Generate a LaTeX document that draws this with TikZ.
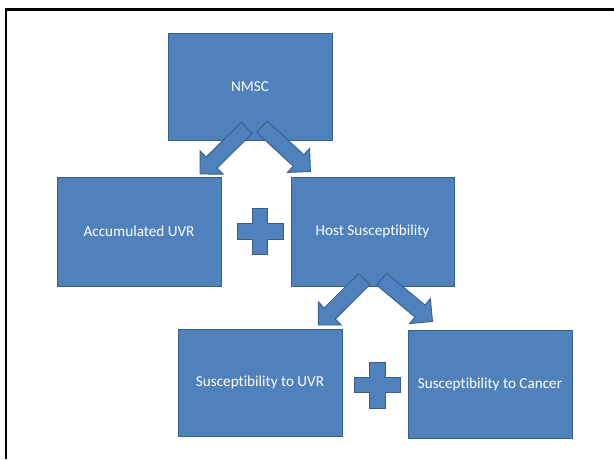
\documentclass[tikz,border=0pt]{standalone}
\usepackage{fontspec}
\setmainfont{Carlito}[Ligatures=NoCommon]
\usetikzlibrary{calc}
\definecolor{boxfill}{HTML}{4F81BD}
\definecolor{boxline}{HTML}{3A5F8B}
\tikzset{
  blockbox/.style={draw=boxline, fill=boxfill, line width=0.9pt, text=white,
    inner sep=0pt, font=\fontsize{15.2}{18}\selectfont},
  blockshape/.style={draw=boxline, fill=boxfill, line width=0.9pt, line join=miter},
}
\newcommand\blkarrow[2]{%
  \coordinate (ba) at (#1);
  \coordinate (bt) at (#2);
  \coordinate (hb) at ($(bt)!16.3pt!(ba)$);
  \filldraw[blockshape]
    ($(ba)!7.8pt!90:(bt)$) -- ($(hb)!7.8pt!90:(bt)$) -- ($(hb)!16.3pt!90:(bt)$)
    -- (bt) -- ($(hb)!16.3pt!-90:(bt)$) -- ($(hb)!7.8pt!-90:(bt)$)
    -- ($(ba)!7.8pt!-90:(bt)$) -- cycle;
}
\newcommand\plussign[1]{%
  \filldraw[blockshape] ($(#1)+(-7.8,-23)$) -- ($(#1)+(7.8,-23)$) -- ($(#1)+(7.8,-7.8)$)
    -- ($(#1)+(23,-7.8)$) -- ($(#1)+(23,7.8)$) -- ($(#1)+(7.8,7.8)$)
    -- ($(#1)+(7.8,23)$) -- ($(#1)+(-7.8,23)$) -- ($(#1)+(-7.8,7.8)$)
    -- ($(#1)+(-23,7.8)$) -- ($(#1)+(-23,-7.8)$) -- ($(#1)+(-7.8,-7.8)$) -- cycle;
}
\begin{document}
\begin{tikzpicture}[x=1pt, y=-1pt]
\useasboundingbox (0,0) rectangle (614,459);
% frame
\draw[line width=2.8pt] (6,459) -- (6,9.5) -- (614,9.5);
% boxes
\node[blockbox, minimum width=164pt, minimum height=107pt] (nmsc) at (250,86.5) {NMSC};
\node[blockbox, minimum width=164pt, minimum height=109pt] (accum) at (139,231.5) {Accumulated UVR};
\node[blockbox, minimum width=163pt, minimum height=109pt] (host) at (372.5,231.5) {Host Susceptibility};
\node[blockbox, minimum width=164pt, minimum height=107pt] (suvr) at (260,382.5) {Susceptibility to UVR};
\node[blockbox, minimum width=164pt, minimum height=108pt] (scan) at (490,384) {Susceptibility to Cancer};
% plus signs
\coordinate (plusA) at (260,231.5);
\coordinate (plusB) at (377.5,385);
\plussign{plusA}
\plussign{plusB}
% arrows
\coordinate (a1t) at (246.7,127.8); \coordinate (a1h) at (200,174);
\coordinate (a2t) at (262,126.7);   \coordinate (a2h) at (310.5,171.5);
\coordinate (a3t) at (364.2,279.2); \coordinate (a3h) at (318.3,325);
\coordinate (a4t) at (381.7,279.2); \coordinate (a4h) at (432.5,321.5);
\blkarrow{a1t}{a1h}
\blkarrow{a2t}{a2h}
\blkarrow{a3t}{a3h}
\blkarrow{a4t}{a4h}
\end{tikzpicture}
\end{document}
